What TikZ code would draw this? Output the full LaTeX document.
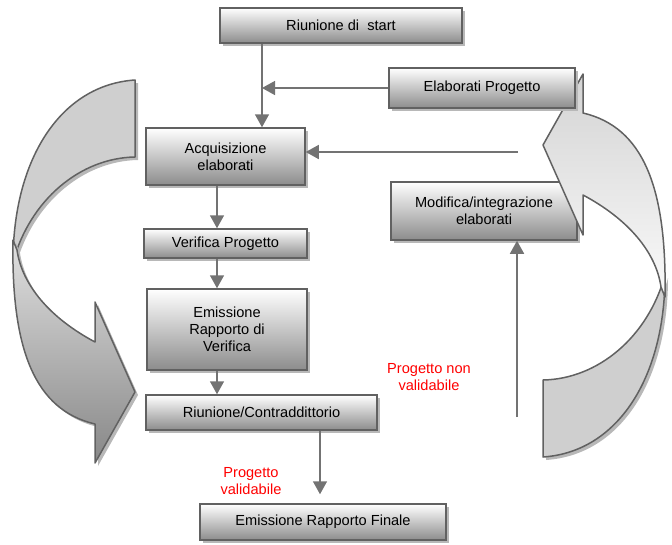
\documentclass[tikz,border=0pt]{standalone}
\usepackage{fontspec}
\setmainfont{Liberation Sans}
\usetikzlibrary{arrows.meta}
\usetikzlibrary{shadows}
\usetikzlibrary{calc}

\begin{document}
\begin{tikzpicture}[x=1pt, y=-1pt,
	txt/.style={font=\fontsize{14.6}{17}\selectfont},
	shade/.style={drop shadow={shadow xshift=3pt, shadow yshift=-3pt, fill=black!28, opacity=1}},
	box/.style={txt, shade, draw=black!62, line width=1.5pt, top color=white, bottom color=black!45, align=center, inner sep=0pt},
	flow/.style={draw=black!55, line width=1.5pt, -{Triangle[length=13pt, width=14pt, black!55]}},
	band/.style={draw=black!62, line width=1.5pt, line join=round},
	note/.style={txt, text=red, align=center}]
	\useasboundingbox (0,0) rectangle (672,544);

	% left curved arrow
	\path[band, shade, fill=black!19] (135,80) .. controls (60,85) and (13,160) .. (13,262)
		.. controls (30,200) and (80,158) .. (135,157) -- cycle;
	\path[band, shade, top color=black!12, bottom color=black!47] (13,240) .. controls (11,350) and (35,410) .. (95,424)
		-- (95,463) -- (135,392) -- (95,302) -- (95,342) .. controls (50,318) and (22,285) .. (17,250) -- cycle;

	\node[box, minimum width=186pt, minimum height=58pt] (modif) at (484,211) {Modifica/integrazione\\elaborati};

	% right curved arrow
	\begin{scope}[rotate around={180:(339,268.5)}]
		\path[band, shade, fill=black!19] (135,80) .. controls (60,85) and (13,160) .. (13,262)
			.. controls (30,200) and (80,158) .. (135,157) -- cycle;
		\path[band, top color=black!17, bottom color=black!2] (13,240) .. controls (11,350) and (35,410) .. (95,424)
			-- (95,463) -- (135,392) -- (95,302) -- (95,342) .. controls (50,318) and (22,285) .. (17,250) -- cycle;
	\end{scope}

	\node[box, minimum width=242pt, minimum height=35pt] (start)  at (341,25.5)  {Riunione di~ start};
	\node[box, minimum width=186pt, minimum height=40pt] (elab)   at (482,88)    {Elaborati Progetto};
	\node[box, minimum width=159pt, minimum height=57pt] (acq)    at (225.5,156.5) {Acquisizione\\elaborati};
	\node[box, minimum width=163pt, minimum height=29pt] (verif)  at (225.5,243.5) {Verifica Progetto};
	\node[box, minimum width=160pt, minimum height=81pt] (emiss)  at (227,329.5) {Emissione\\Rapporto di\\Verifica};
	\node[box, minimum width=231pt, minimum height=35pt] (riun)   at (261.5,412.5) {Riunione/Contraddittorio};
	\node[box, minimum width=246pt, minimum height=36pt] (finale) at (323,522)   {Emissione Rapporto Finale};

	\node[note] (nonval) at (429,377.5) {Progetto non\\validabile};
	\node[note] (val)    at (251,481.5) {Progetto\\validabile};

	\coordinate (spine) at (262,0);
	\coordinate (col)   at (217,0);
	\coordinate (out)   at (320,0);
	\coordinate (loop)  at (518,152);
	\coordinate (ret)   at (517,417);

	\draw[flow] (start.south -| spine) -- (acq.north -| spine);
	\draw[flow] (elab.west) -- (elab.west -| spine);
	\draw[flow] (loop) -- (loop -| acq.east);
	\draw[flow] (acq.south -| col) -- (verif.north -| col);
	\draw[flow] (verif.south -| col) -- (emiss.north -| col);
	\draw[flow] (emiss.south -| col) -- (riun.north -| col);
	\draw[flow, shorten >=9pt] (riun.south -| out) -- (finale.north -| out);
	\draw[flow] (ret) -- (ret |- modif.south);
\end{tikzpicture}
\end{document}
